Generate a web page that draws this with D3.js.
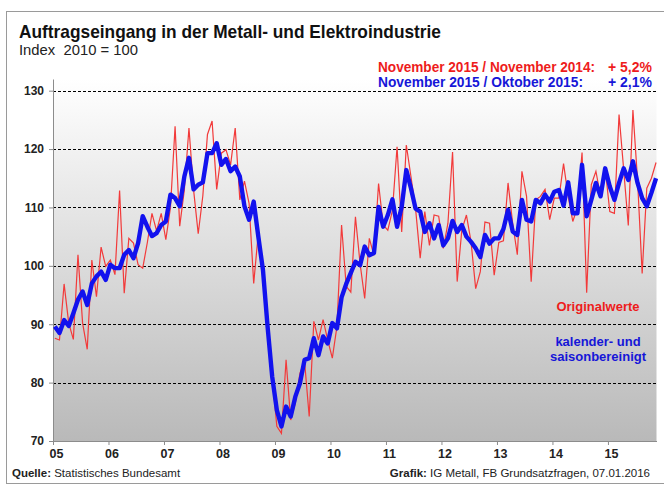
<!DOCTYPE html>
<html lang="de">
<head>
<meta charset="UTF-8">
<title>Auftragseingang Metall- und Elektroindustrie</title>
<script src="https://d3js.org/d3.v7.min.js"></script>
<style>
  body { margin: 0; background: #fff; }
  svg { display: block; font-family: "Liberation Sans Narrow", "Liberation Sans", Arial, sans-serif; }
  text { white-space: pre; }
  .grid line { stroke: #000; stroke-width: 1; stroke-dasharray: 3 2; }
  .axis path, .axis line { stroke: #8c8c8c; }
  .axis text { font-family: "Liberation Sans", Arial, sans-serif; font-weight: bold; fill: #222; }
</style>
</head>
<body>
<svg width="664" height="486"></svg>
<script>
// Jahres-Beschriftung der x-Achse (Jan 2005 - Nov 2015, monatlich)
const jahre = ["05", "06", "07", "08", "09", "10", "11", "12", "13", "14", "15"];
const yTicks = [70, 80, 90, 100, 110, 120, 130];

// Originalwerte (rot)
const originalwerte = [
  87.6, 87.3, 96.9, 90.2, 87.4, 101.9, 90.2, 85.7, 101.0, 94.7, 103.2, 99.9,
  101.0, 98.5, 112.9, 95.3, 104.7, 103.9, 100.2, 99.6, 104.0, 109.0, 106.0, 109.0,
  104.5, 110.0, 123.9, 106.8, 113.0, 123.6, 113.0, 105.5, 112.0, 122.5, 124.8, 113.1,
  119.3, 119.9, 117.3, 123.6, 111.3, 114.5, 110.7, 97.0, 105.6, 98.2, 90.2, 81.0,
  72.5, 71.3, 83.9, 73.6, 76.5, 81.6, 83.6, 74.2, 90.5, 87.3, 90.8, 87.3,
  84.2, 89.6, 107.0, 96.5, 95.5, 108.4, 100.4, 94.4, 104.7, 101.8, 114.1, 107.0,
  106.1, 109.5, 120.4, 105.8, 120.7, 115.3, 109.8, 101.3, 109.3, 103.5, 108.7, 108.5,
  103.0, 107.3, 119.5, 97.3, 106.1, 108.7, 104.1, 96.1, 99.0, 107.5, 107.3, 98.4,
  104.0, 104.3, 114.2, 107.3, 101.9, 116.2, 111.9, 97.3, 111.3, 111.9, 113.1, 107.9,
  111.6, 111.6, 117.5, 111.9, 107.6, 110.0, 119.4, 95.4, 113.9, 116.2, 111.9, 116.7,
  109.3, 109.0, 125.9, 116.5, 106.9, 126.7, 114.7, 98.7, 113.3, 115.0, 117.7
];

// kalender- und saisonbereinigt (blau)
const bereinigt = [
  89.6, 88.5, 90.7, 89.7, 91.9, 94.2, 95.6, 93.3, 97.0, 98.2, 99.0, 97.6,
  100.2, 99.6, 99.6, 101.9, 102.7, 101.3, 103.9, 108.5, 106.7, 105.1, 105.6, 107.0,
  107.6, 112.2, 111.6, 110.2, 115.3, 118.5, 113.1, 113.9, 114.3, 119.3, 119.3, 121.0,
  117.3, 118.3, 116.2, 117.0, 115.3, 110.2, 107.9, 111.0, 105.0, 99.3, 89.6, 81.0,
  75.3, 72.5, 75.9, 74.2, 77.6, 79.9, 83.9, 84.2, 87.6, 84.7, 87.9, 86.7,
  90.2, 89.3, 94.6, 96.9, 98.8, 100.7, 100.1, 103.3, 101.8, 102.2, 110.1, 106.7,
  108.7, 111.4, 106.7, 110.1, 116.4, 113.3, 109.8, 109.3, 105.8, 107.3, 104.7, 107.0,
  103.5, 104.7, 107.7, 105.8, 107.0, 105.0, 104.1, 103.0, 101.5, 105.3, 103.8, 104.7,
  104.7, 106.3, 109.6, 105.9, 105.3, 111.3, 107.9, 107.6, 111.3, 110.7, 112.2, 111.0,
  112.7, 113.0, 110.3, 114.3, 109.0, 109.0, 117.3, 108.5, 111.3, 114.2, 111.9, 116.7,
  113.6, 111.3, 114.2, 116.7, 114.7, 117.9, 114.2, 111.6, 110.2, 112.5, 115.0
];

const svg = d3.select("svg");
const plot = { left: 53, right: 656.5, top: 79, bottom: 441 };

const x = d3.scaleLinear().domain([0, 130.5]).range([plot.left, plot.right]);
const y = d3.scaleLinear().domain([70, 132]).range([plot.bottom, plot.top]);

// Rahmen
svg.append("rect")
  .attr("x", 6.5).attr("y", 11.5).attr("width", 680).attr("height", 472)
  .attr("fill", "none").attr("stroke", "#9a9a9a");

// Hintergrundverlauf der Zeichenfläche
const grad = svg.append("defs").append("linearGradient")
  .attr("id", "bg").attr("x1", 0).attr("y1", 0).attr("x2", 0).attr("y2", 1);
grad.append("stop").attr("offset", "0%").attr("stop-color", "#ffffff");
grad.append("stop").attr("offset", "100%").attr("stop-color", "#b9b9b9");

svg.append("rect")
  .attr("x", plot.left).attr("y", plot.top)
  .attr("width", plot.right - plot.left).attr("height", plot.bottom - plot.top)
  .attr("fill", "url(#bg)");

// Gitterlinien
svg.append("g").attr("class", "grid")
  .selectAll("line")
  .data(yTicks.filter(d => d > 70))
  .join("line")
  .attr("x1", plot.left).attr("x2", plot.right)
  .attr("y1", d => Math.round(y(d)) + 0.5).attr("y2", d => Math.round(y(d)) + 0.5);

// Achsen
const yAxis = svg.append("g").attr("class", "axis")
  .attr("transform", `translate(${plot.left},0)`)
  .call(d3.axisLeft(y).tickValues(yTicks).tickSize(4).tickSizeOuter(0).tickPadding(5));
yAxis.selectAll("text").style("font-size", "12px");

const xAxis = svg.append("g").attr("class", "axis")
  .attr("transform", `translate(0,${plot.bottom})`)
  .call(d3.axisBottom(x).tickValues(jahre.map((d, i) => i * 12))
    .tickFormat((d, i) => jahre[i]).tickSize(4).tickSizeOuter(0).tickPadding(4));
xAxis.selectAll("text").style("font-size", "12.5px").attr("dx", 3);

// Linien
const line = d3.line().x((d, i) => x(i + 0.4)).y(d => y(d));

svg.append("path").datum(originalwerte)
  .attr("d", line).attr("fill", "none")
  .attr("stroke", "#f23a3a").attr("stroke-width", 1.2);

svg.append("path").datum(bereinigt)
  .attr("d", line).attr("fill", "none")
  .attr("stroke", "#1212ee").attr("stroke-width", 4.4)
  .attr("stroke-linejoin", "round");

// Texte
function txt(s, px, py, opts) {
  const t = svg.append("text").attr("x", px).attr("y", py).text(s)
    .style("font-size", opts.size + "px")
    .style("font-weight", opts.bold ? "bold" : "normal")
    .attr("fill", opts.color || "#111")
    .attr("text-anchor", opts.anchor || "start");
  if (opts.len) t.attr("textLength", opts.len).attr("lengthAdjust", "spacingAndGlyphs");
  return t;
}

txt("Auftragseingang in der Metall- und Elektroindustrie", 19, 38, { size: 19, bold: true, len: 422 });
txt("Index  2010 = 100", 19, 55, { size: 15, len: 119, color: "#222" });

txt("November 2015 / November 2014:", 378, 72, { size: 14, bold: true, color: "#ee1c1c", len: 217 });
txt("+ 5,2%", 652, 72, { size: 14, bold: true, color: "#ee1c1c", anchor: "end" });
txt("November 2015 / Oktober 2015:", 378, 87, { size: 14, bold: true, color: "#1616d8", len: 205 });
txt("+ 2,1%", 652, 87, { size: 14, bold: true, color: "#1616d8", anchor: "end" });

txt("Originalwerte", 598, 311, { size: 13, bold: true, color: "#ee1c1c", anchor: "middle" });
txt("kalender- und", 598, 346, { size: 13, bold: true, color: "#1616d8", anchor: "middle" });
txt("saisonbereinigt", 598, 361, { size: 13, bold: true, color: "#1616d8", anchor: "middle" });

const q = txt("", 12, 477, { size: 11.5, color: "#222" });
q.append("tspan").style("font-weight", "bold").text("Quelle:");
q.append("tspan").text(" Statistisches Bundesamt");

const g = txt("", 650, 477, { size: 11.5, color: "#222", anchor: "end" });
g.append("tspan").style("font-weight", "bold").text("Grafik:");
g.append("tspan").text(" IG Metall, FB Grundsatzfragen, 07.01.2016");
</script>
</body>
</html>
